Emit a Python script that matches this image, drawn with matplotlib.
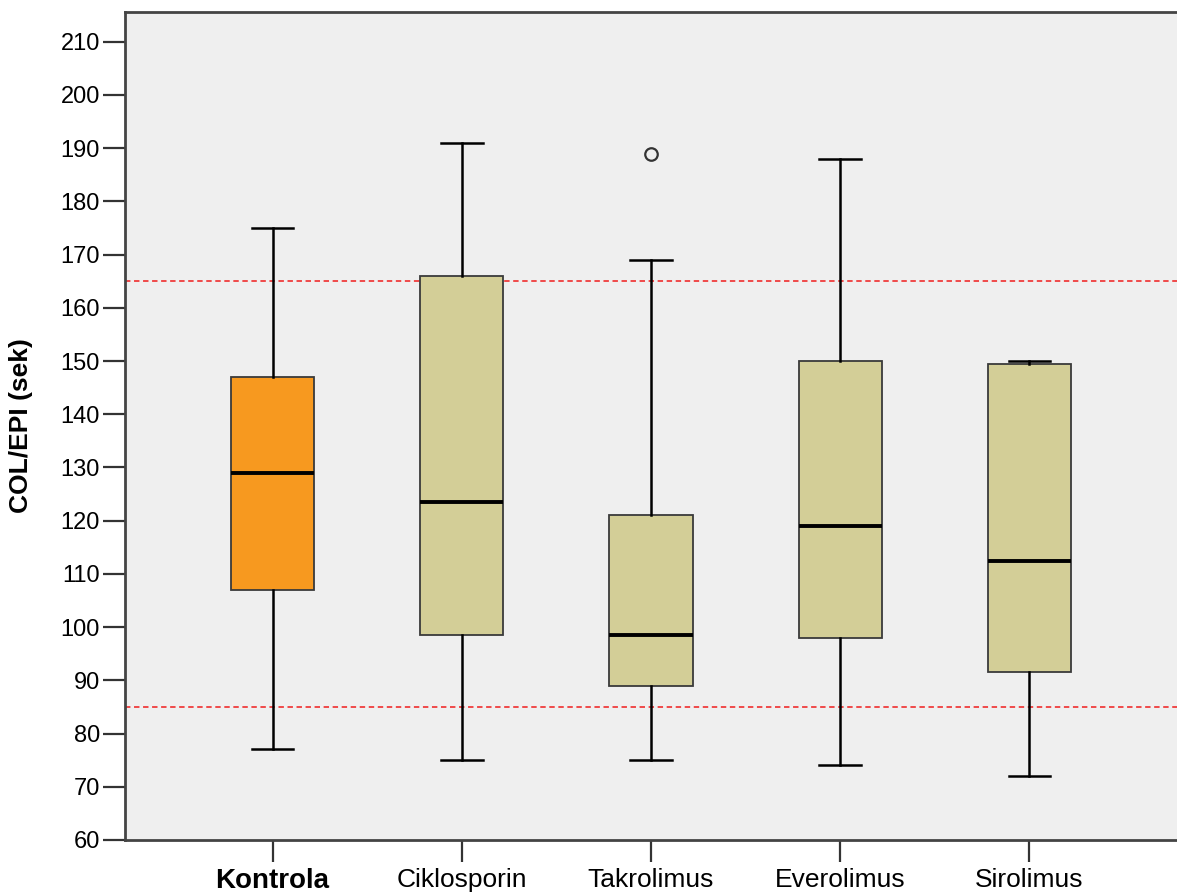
import matplotlib
matplotlib.use("Agg")
import matplotlib.pyplot as plt

plt.rcParams['font.family'] = ['Liberation Sans', 'DejaVu Sans']

groups = ["Kontrola", "Ciklosporin", "Takrolimus", "Everolimus", "Sirolimus"]
whislo = [77, 75, 75, 74, 72]
q1 = [107, 98.5, 89, 98, 91.5]
med = [129, 123.5, 98.5, 119, 112.5]
q3 = [147, 166, 121, 150, 149.5]
whishi = [175, 191, 169, 188, 150]
fliers = [[], [], [189], [], []]
ref_lines = [165, 85]

box_colors = ["#F7991F", "#D3CE97", "#D3CE97", "#D3CE97", "#D3CE97"]

stats = []
for i, g in enumerate(groups):
    stats.append(dict(label=g, whislo=whislo[i], q1=q1[i], med=med[i],
                      q3=q3[i], whishi=whishi[i], fliers=fliers[i]))

fig = plt.figure(figsize=(11.77, 8.93), dpi=100)
ax = fig.add_axes([0.1062, 0.0594, 0.8938, 0.9272])
ax.set_facecolor("#EFEFEF")

bp = ax.bxp(stats, positions=range(len(groups)), widths=0.44,
            patch_artist=True, showfliers=True,
            boxprops=dict(edgecolor="#3a3a3a", linewidth=1.3),
            medianprops=dict(color="black", linewidth=2.8),
            whiskerprops=dict(color="black", linewidth=1.8),
            capprops=dict(color="black", linewidth=1.8),
            capwidths=0.22,
            flierprops=dict(marker="o", markersize=9, markerfacecolor="none",
                            markeredgecolor="#333333", markeredgewidth=1.6))
for patch, c in zip(bp["boxes"], box_colors):
    patch.set_facecolor(c)

# reference range limits
for v in ref_lines:
    ax.axhline(v, color="#F03C3C", linestyle=(0, (3, 2)), linewidth=1.3, zorder=1)

ax.set_xlim(-0.78, 4.78)
ax.set_ylim(60, 215.6)
ax.set_yticks(range(60, 211, 10))
ax.tick_params(axis="y", labelsize=17, length=16, width=1.6, color="#333333", pad=2)
ax.tick_params(axis="x", labelsize=19, length=16, width=1.6, color="#333333", pad=4)
ax.set_xticks(range(len(groups)))
ax.set_xticklabels(groups)
ax.get_xticklabels()[0].set_fontweight("bold")
ax.get_xticklabels()[0].set_fontsize(20)

for side in ["left", "bottom", "top"]:
    ax.spines[side].set_color("#444444")
    ax.spines[side].set_linewidth(2)
ax.spines["right"].set_visible(False)

ax.set_ylabel("COL/EPI (sek)", fontsize=19, fontweight="bold")
ax.yaxis.set_label_coords(-0.087, 0.5)

fig.savefig("out.png", dpi=100)
